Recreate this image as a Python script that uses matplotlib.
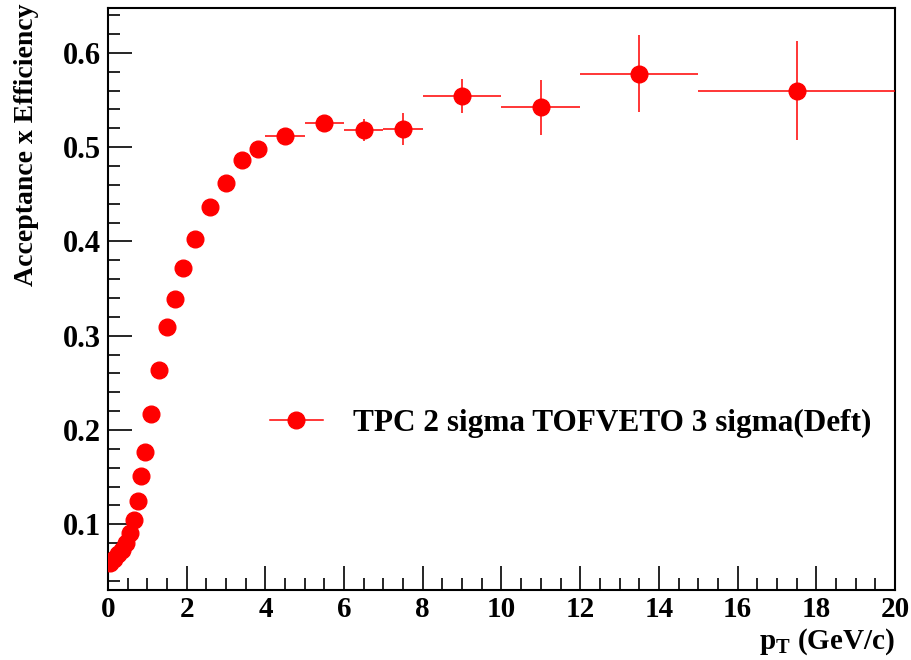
import matplotlib
matplotlib.use("Agg")
import matplotlib.pyplot as plt
from matplotlib.lines import Line2D
from matplotlib.ticker import MultipleLocator

# pT bin centres and half widths (GeV/c)
pt = [0.05, 0.15, 0.25, 0.35, 0.45, 0.55, 0.65, 0.75, 0.85, 0.95,
      1.1, 1.3, 1.5, 1.7, 1.9, 2.2, 2.6, 3.0, 3.4, 3.8,
      4.5, 5.5, 6.5, 7.5, 9.0, 11.0, 13.5, 17.5]
pt_err = [0.05] * 10 + [0.1] * 5 + [0.2] * 5 + [0.5] * 4 + [1.0, 1.0, 1.5, 2.5]

eff = [0.059, 0.063, 0.068, 0.073, 0.080, 0.091, 0.105, 0.125, 0.151, 0.177,
       0.217, 0.264, 0.309, 0.339, 0.372, 0.403, 0.436, 0.462, 0.486, 0.498,
       0.512, 0.526, 0.518, 0.519, 0.554, 0.542, 0.578, 0.560]
eff_err = [0.001] * 10 + [0.002] * 10 + [0.004, 0.006, 0.012, 0.017, 0.018, 0.029, 0.041, 0.053]

label = "TPC 2 sigma TOFVETO 3 sigma(Deft)"

plt.rcParams['font.family'] = ['Liberation Serif', 'DejaVu Serif']
plt.rcParams['font.weight'] = 'bold'
plt.rcParams['mathtext.fontset'] = 'custom'
plt.rcParams['mathtext.bf'] = 'Liberation Serif:bold'
plt.rcParams['mathtext.rm'] = 'Liberation Serif:bold'

fig = plt.figure(figsize=(9.11, 6.6), dpi=100)
ax = fig.add_axes([108 / 911, 1 - 590 / 660, (895 - 108) / 911, (590 - 8) / 660])

ax.errorbar(pt, eff, xerr=pt_err, yerr=eff_err, fmt='o', color='red',
            markersize=12, elinewidth=1.1, capsize=0, zorder=3)

ax.set_xlim(0, 20)
ax.set_ylim(0.0303, 0.6475)

ax.xaxis.set_major_locator(MultipleLocator(2))
ax.xaxis.set_minor_locator(MultipleLocator(0.5))
ax.yaxis.set_major_locator(MultipleLocator(0.1))
ax.yaxis.set_minor_locator(MultipleLocator(0.02))
ax.yaxis.set_major_formatter(plt.FuncFormatter(lambda v, p: f"{v:.1f}"))

ax.tick_params(which='both', direction='in', top=False, right=False, width=1.2,
               labelsize=22)
ax.tick_params(axis='x', labelsize=21, pad=4)
ax.tick_params(which='major', length=17)
ax.tick_params(which='minor', length=8.5)
ax.tick_params(axis='y', pad=5)
for s in ax.spines.values():
    s.set_linewidth(1.5)

fig.text(27 / 911, 1 - 4 / 660, "Acceptance x Efficiency", rotation=90,
         ha='center', va='top', fontsize=20, fontweight='bold')
ax.text(1.0, -0.1, r"$\mathbf{p}_{\mathbf{T}}$ (GeV/c)", transform=ax.transAxes,
        ha='right', va='baseline', fontsize=21, fontweight='bold')

handle = Line2D([], [], color='red', marker='o', markersize=12, linewidth=1.1)
ax.legend([handle], [label], loc='center left', bbox_to_anchor=(0.17, 0.287),
          frameon=False, fontsize=22.5, handlelength=1.7, handletextpad=0.95)

fig.savefig("out.png", dpi=100)
